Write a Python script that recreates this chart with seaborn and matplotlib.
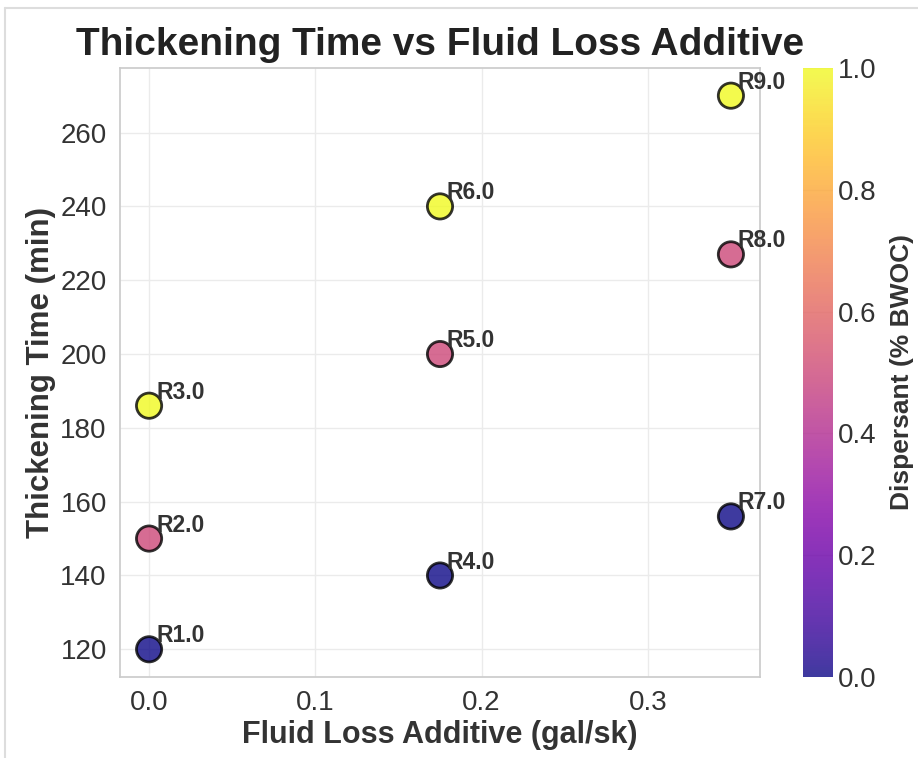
import numpy as np
import pandas as pd
import matplotlib
matplotlib.use("Agg")
import matplotlib.pyplot as plt
from matplotlib.lines import Line2D
import seaborn as sns

# values
run = [1.0, 2.0, 3.0, 4.0, 5.0, 6.0, 7.0, 8.0, 9.0]
fluid_loss = [0.0, 0.0, 0.0, 0.175, 0.175, 0.175, 0.35, 0.35, 0.35]
dispersant = [0.0, 0.5, 1.0, 0.0, 0.5, 1.0, 0.0, 0.5, 1.0]
thick_time = [120, 150, 186, 140, 200, 240, 156, 227, 270]

df = pd.DataFrame({'Run': run, 'FLA': fluid_loss, 'Disp': dispersant, 'TT': thick_time})

sns.set_theme(style='whitegrid', rc={'grid.color': '#ebebeb', 'axes.edgecolor': '#cccccc'})
plt.rcParams['font.family'] = ['Liberation Sans', 'DejaVu Sans']

fig = plt.figure(figsize=(9.18, 7.58), dpi=100)
ax = fig.add_axes([0.1307, 0.1069, 0.6972, 0.8034])
cax = fig.add_axes([0.8747, 0.1069, 0.0327, 0.8034])

# faint frame of the original screenshot
fig.add_artist(Line2D([5 / 918, 1], [1 - 8 / 758, 1 - 8 / 758], color='#dddddd', lw=1.5))
fig.add_artist(Line2D([5 / 918, 5 / 918], [0, 1 - 8 / 758], color='#dddddd', lw=1.5))

sns.scatterplot(data=df, x='FLA', y='TT', hue='Disp', palette='plasma', hue_norm=(0, 1),
                s=330, alpha=0.8, edgecolor='black', linewidth=2, legend=False, ax=ax, zorder=3)

for _, r in df.iterrows():
    ax.annotate('R%.1f' % r['Run'], (r['FLA'], r['TT']), xytext=(5, 5), textcoords='offset points',
                fontsize=16.5, fontweight='bold', color='#333333')

ax.set_title('Thickening Time vs Fluid Loss Additive', fontsize=28, fontweight='bold', pad=9,
             color='#222222')
ax.set_xlabel('Fluid Loss Additive (gal/sk)', fontsize=22, fontweight='bold', color='#333333',
              labelpad=3)
ax.set_ylabel('Thickening Time (min)', fontsize=22.5, fontweight='bold', color='#333333',
              labelpad=3)
ax.tick_params(labelsize=20, colors='#333333')
ax.set_xticks([0.0, 0.1, 0.2, 0.3])

sm = plt.cm.ScalarMappable(cmap='plasma', norm=plt.Normalize(0, 1))
cbar = fig.colorbar(sm, cax=cax, alpha=0.8)
cbar.set_label('Dispersant (% BWOC)', fontsize=19, fontweight='bold', color='#333333', labelpad=10)
cbar.ax.tick_params(labelsize=20, colors='#333333', length=0)
cbar.outline.set_visible(False)

plt.savefig('out.png', dpi=100)
